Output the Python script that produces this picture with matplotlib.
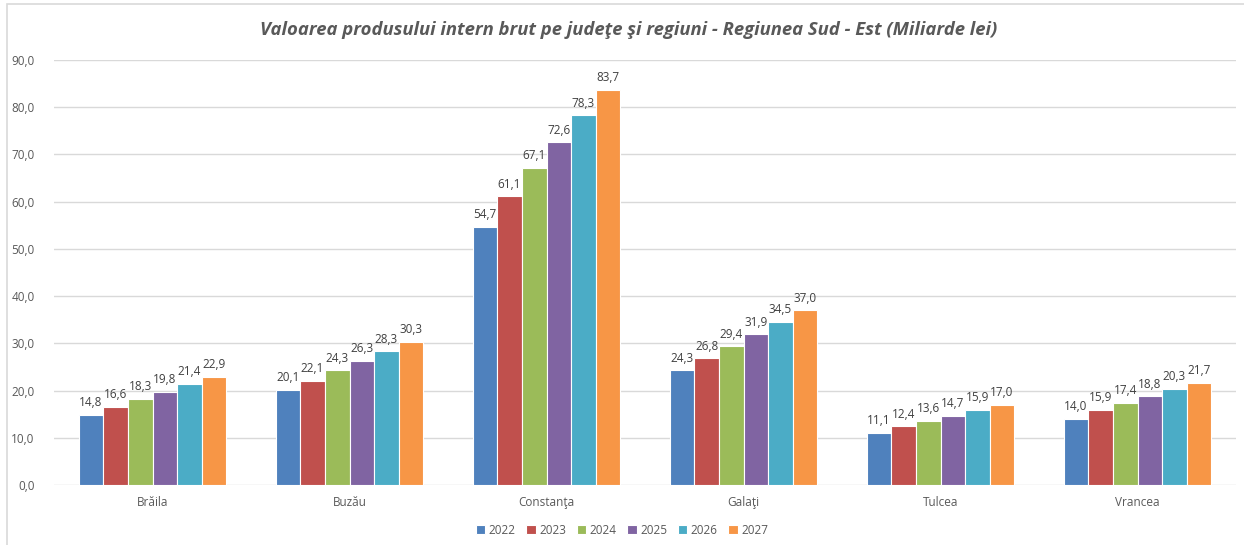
import matplotlib.pyplot as plt
import numpy as np
from matplotlib.patches import Rectangle

# date
judete = ["Brăila", "Buzău", "Constanţa", "Galaţi", "Tulcea", "Vrancea"]
ani = ["2022", "2023", "2024", "2025", "2026", "2027"]
v2022 = [14.8, 20.1, 54.7, 24.3, 11.1, 14.0]
v2023 = [16.6, 22.1, 61.1, 26.8, 12.4, 15.9]
v2024 = [18.3, 24.3, 67.1, 29.4, 13.6, 17.4]
v2025 = [19.8, 26.3, 72.6, 31.9, 14.7, 18.8]
v2026 = [21.4, 28.3, 78.3, 34.5, 15.9, 20.3]
v2027 = [22.9, 30.3, 83.7, 37.0, 17.0, 21.7]
serii = [v2022, v2023, v2024, v2025, v2026, v2027]
culori = ["#4F81BD", "#C0504D", "#9BBB59", "#8064A2", "#4BACC6", "#F79646"]

plt.rcParams["font.family"] = ["Open Sans", "DejaVu Sans"]

fig = plt.figure(figsize=(12.44, 5.45), dpi=100)
ax = fig.add_axes([54 / 1244, 60 / 545, 1182 / 1244, 425 / 545])

# chenar gri
fig.patches.append(Rectangle((7 / 1244, -0.01), 1.0, 1 - 4 / 545 + 0.01,
                             transform=fig.transFigure, fill=False,
                             edgecolor="#D9D9D9", linewidth=1.2))

x = np.arange(len(judete))
w = 0.125
for i, (val, c, an) in enumerate(zip(serii, culori, ani)):
    pos = x + (i - 2.5) * w
    ax.bar(pos, val, width=w, color=c, edgecolor="white",
           linewidth=0.8, label=an, zorder=3)
    for xb, v in zip(pos, val):
        ax.text(xb, v + 1.2, f"{v:.1f}".replace(".", ","), ha="center",
                va="bottom", fontsize=8.5, color="#404040")

ax.set_xlim(-0.5, len(judete) - 0.5)
ax.set_ylim(0, 90)
ax.set_yticks(np.arange(0, 91, 10))
ax.set_yticklabels([f"{t:.1f}".replace(".", ",") for t in np.arange(0, 91, 10)])
ax.set_xticks(x)
ax.set_xticklabels(judete)
ax.tick_params(axis="both", length=0, labelsize=8.5, labelcolor="#595959")
ax.tick_params(axis="x", pad=8)
ax.tick_params(axis="y", pad=14)
ax.grid(axis="y", color="#D9D9D9", linewidth=1, zorder=0)
for s in ax.spines.values():
    s.set_visible(False)

fig.text(0.5055, 1 - 30 / 545, "Valoarea produsului intern brut pe judeţe şi regiuni - Regiunea Sud - Est (Miliarde lei)",
         ha="center", va="center", fontsize=13.3, fontweight="bold",
         fontstyle="italic", color="#595959")

fig.legend(loc="center", bbox_to_anchor=(0.5, 1 - 530 / 545), ncol=6,
           frameon=False, fontsize=8.5, handlelength=0.8, handleheight=0.8,
           handletextpad=0.3, columnspacing=0.9, labelcolor="#595959")

fig.savefig("out.png", dpi=100)
